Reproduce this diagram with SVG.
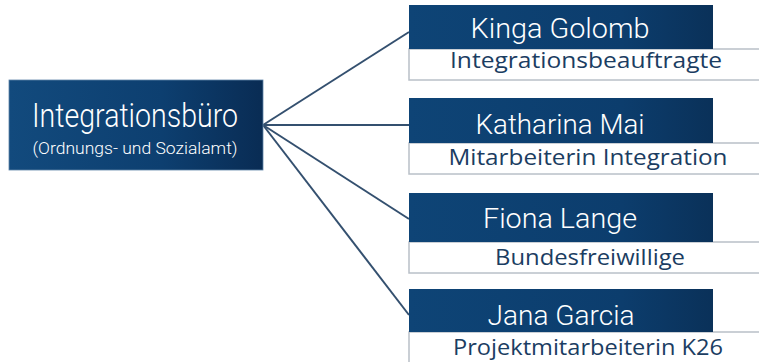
<svg xmlns="http://www.w3.org/2000/svg" width="759" height="362" viewBox="0 0 759 362">
<defs>
<linearGradient id="gMain" x1="0" y1="0" x2="1" y2="0">
<stop offset="0" stop-color="#124a7d"/>
<stop offset="0.6" stop-color="#0d3f70"/>
<stop offset="1" stop-color="#092c54"/>
</linearGradient>
<linearGradient id="gName" x1="0" y1="0" x2="1" y2="0">
<stop offset="0" stop-color="#0e4476"/>
<stop offset="0.7" stop-color="#0c3d6d"/>
<stop offset="1" stop-color="#0a3159"/>
</linearGradient>
<style>
.conn{stroke:#34506f;stroke-width:2;fill:none}
.dark{fill:url(#gName)}
.sub{fill:#ffffff;stroke:#b9c0c8;stroke-width:1.5}
.name{font-family:"Roboto","Liberation Sans",sans-serif;font-weight:300;font-size:28px;fill:#ffffff;text-anchor:middle}
.role{font-family:"Open Sans","Liberation Sans",sans-serif;font-size:22px;fill:#1b3d62;text-anchor:middle}
.main{font-family:"Roboto","Liberation Sans",sans-serif;font-weight:300;fill:#ffffff;text-anchor:middle}
</style>
</defs>
<rect width="759" height="362" fill="#ffffff"/>
<g id="connectors">
<line class="conn" x1="263" y1="125" x2="409" y2="32"/>
<line class="conn" x1="263" y1="125" x2="409" y2="125"/>
<line class="conn" x1="263" y1="125" x2="409" y2="219"/>
<line class="conn" x1="263" y1="125" x2="409" y2="315"/>
</g>
<g id="integrationsbuero">
<rect x="9" y="80" width="254" height="90" fill="url(#gMain)" stroke="#5f84a8" stroke-width="0.8"/>
<text class="main" x="135" y="127" font-size="34" textLength="206" lengthAdjust="spacingAndGlyphs">Integrationsbüro</text>
<text class="main" x="135" y="154" font-size="17" textLength="205" lengthAdjust="spacingAndGlyphs">(Ordnungs- und Sozialamt)</text>
</g>
<g id="kinga">
<rect class="sub" x="409" y="49" width="360" height="31"/>
<rect class="dark" x="409" y="5" width="304" height="44"/>
<text class="name" x="560" y="38" textLength="179" lengthAdjust="spacingAndGlyphs">Kinga Golomb</text>
<text class="role" x="586" y="68" textLength="272" lengthAdjust="spacingAndGlyphs">Integrationsbeauftragte</text>
</g>
<g id="katharina">
<rect class="sub" x="409" y="143" width="360" height="31"/>
<rect class="dark" x="409" y="98" width="304" height="45"/>
<text class="name" x="560" y="134" textLength="169" lengthAdjust="spacingAndGlyphs">Katharina Mai</text>
<text class="role" x="588" y="165" textLength="279" lengthAdjust="spacingAndGlyphs">Mitarbeiterin Integration</text>
</g>
<g id="fiona">
<rect class="sub" x="409" y="242" width="360" height="31"/>
<rect class="dark" x="409" y="193" width="304" height="49"/>
<text class="name" x="560" y="228" textLength="154" lengthAdjust="spacingAndGlyphs">Fiona Lange</text>
<text class="role" x="590" y="265" textLength="190" lengthAdjust="spacingAndGlyphs">Bundesfreiwillige</text>
</g>
<g id="jana">
<rect class="sub" x="409" y="332" width="360" height="40"/>
<rect class="dark" x="409" y="289" width="304" height="43"/>
<text class="name" x="561" y="325" textLength="147" lengthAdjust="spacingAndGlyphs">Jana Garcia</text>
<text class="role" x="588" y="355" textLength="270" lengthAdjust="spacingAndGlyphs">Projektmitarbeiterin K26</text>
</g>
</svg>
